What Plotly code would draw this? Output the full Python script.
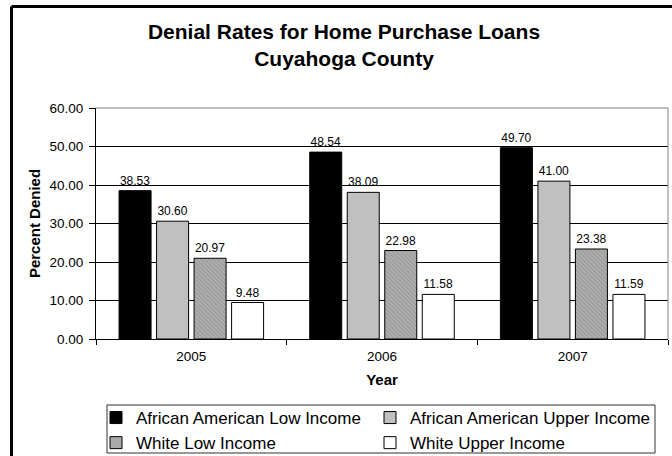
import plotly.graph_objects as go

# Denial rates (percent) by year and applicant group
years = ["2005", "2006", "2007"]
aa_low = [38.53, 48.54, 49.70]
aa_upper = [30.60, 38.09, 41.00]
white_low = [20.97, 22.98, 23.38]
white_upper = [9.48, 11.58, 11.59]
y_ticks = [0, 10, 20, 30, 40, 50, 60]

FONT = "Arial, 'Liberation Sans', sans-serif"

W, H = 672, 456
L, R, T, B = 96, 4, 108, 117
pw, ph = W - L - R, H - T - B


def px_x(x):
    return (x - L) / pw


def px_y(y):
    return (H - B - y) / ph


# (name, values, marker, legend column)
series = [
    ("African American Low Income", aa_low, dict(color="#000000"), "legend"),
    ("African American Upper Income", aa_upper, dict(color="#c0c0c0"), "legend2"),
    ("White Low Income", white_low,
     dict(color="#a6a6a6",
          pattern=dict(shape="\\", fgcolor="#777777", bgcolor="#b0b0b0",
                       size=3, solidity=0.35)), "legend"),
    ("White Upper Income", white_upper, dict(color="#ffffff"), "legend2"),
]

fig = go.Figure()
for name, vals, mk, lg in series:
    mk = dict(mk)
    mk["line"] = dict(color="#000000", width=1)
    fig.add_trace(go.Bar(
        x=years, y=vals, name=name, marker=mk, legend=lg,
        text=[f"{v:.2f}" for v in vals], textposition="outside",
        textfont=dict(family=FONT, size=12, color="#000000"),
        cliponaxis=False,
    ))

shapes = [
    # plot-area frame (top and right edges)
    dict(type="line", xref="paper", yref="paper", x0=0, x1=1, y0=1, y1=1,
         line=dict(color="#808080", width=1), layer="above"),
    dict(type="line", xref="paper", yref="paper", x0=1, x1=1, y0=0, y1=1,
         line=dict(color="#808080", width=1), layer="above"),
    # legend box
    dict(type="rect", xref="paper", yref="paper",
         x0=px_x(107), x1=px_x(655), y0=px_y(453), y1=px_y(405),
         line=dict(color="#333333", width=1), layer="above"),
    # outer chart border (top and left visible)
    dict(type="line", xref="paper", yref="paper",
         x0=px_x(11.5), x1=px_x(700), y0=px_y(6.5), y1=px_y(6.5),
         line=dict(color="#000000", width=3), layer="above"),
    dict(type="line", xref="paper", yref="paper",
         x0=px_x(11.5), x1=px_x(11.5), y0=px_y(6.5), y1=px_y(480),
         line=dict(color="#000000", width=3), layer="above"),
]

legend_common = dict(
    orientation="v", xanchor="left", yanchor="top",
    font=dict(family=FONT, size=17, color="#000000"),
    bgcolor="rgba(0,0,0,0)", borderwidth=0,
    itemclick=False, traceorder="normal", tracegroupgap=0,
)

fig.update_layout(
    width=W, height=H,
    margin=dict(l=L, r=R, t=T, b=B, pad=0, autoexpand=False),
    paper_bgcolor="#ffffff", plot_bgcolor="#ffffff",
    font=dict(family=FONT, color="#000000"),
    barmode="group", bargap=0.213, bargroupgap=0.147,
    title=dict(
        text="<b>Denial Rates for Home Purchase Loans<br>Cuyahoga County</b>",
        font=dict(family=FONT, size=21, color="#000000"),
        x=344 / W, xanchor="center", xref="container",
        y=1 - 39 / H, yanchor="middle", yref="container",
    ),
    showlegend=True,
    legend=dict(legend_common, x=px_x(96), y=px_y(400)),
    legend2=dict(legend_common, x=px_x(370), y=px_y(400)),
    shapes=shapes,
)

fig.update_xaxes(
    type="category", tickson="boundaries", ticks="outside", ticklen=5,
    tickcolor="#000000", showline=True, linecolor="#000000", linewidth=1,
    showgrid=False, tickfont=dict(family=FONT, size=13.5, color="#000000"),
    ticklabelstandoff=5,
    title=dict(text="<b>Year</b>", standoff=11,
               font=dict(family=FONT, size=15, color="#000000")),
)
fig.update_yaxes(
    range=[0, 60], tickvals=y_ticks, tickformat=".2f",
    ticks="outside", ticklen=6, tickcolor="#000000",
    showline=True, linecolor="#000000", linewidth=1,
    showgrid=True, gridcolor="#000000", gridwidth=1, zeroline=False,
    tickfont=dict(family=FONT, size=13.5, color="#000000"),
    ticklabelstandoff=3,
    title=dict(text="<b>Percent Denied</b>", standoff=5,
               font=dict(family=FONT, size=15, color="#000000")),
)

fig.write_html("out.html")
